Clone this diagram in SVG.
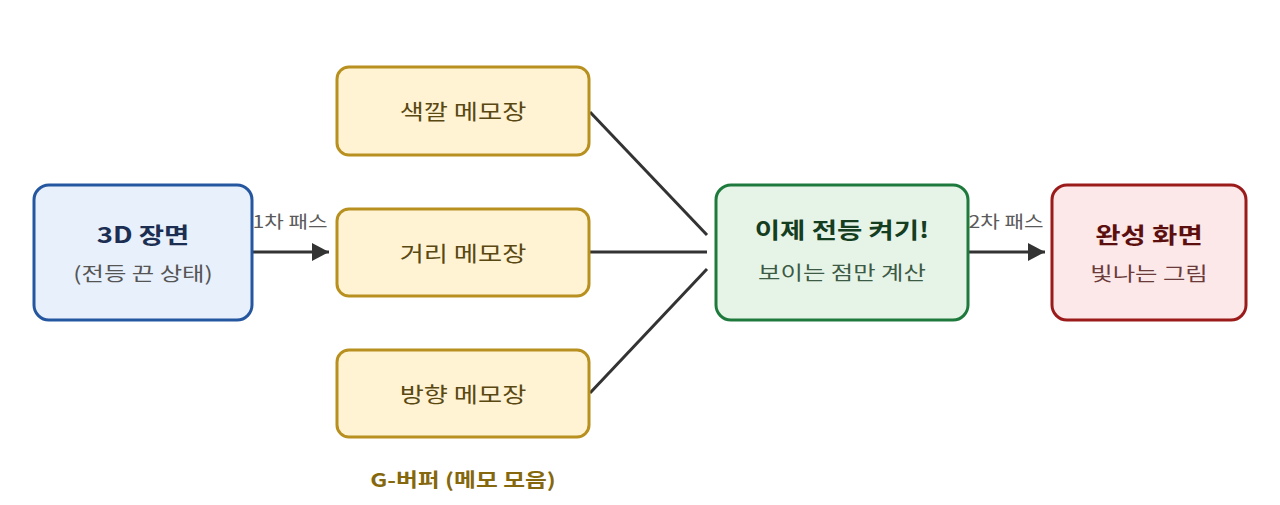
<svg xmlns="http://www.w3.org/2000/svg" width="1280" height="505" viewBox="0 0 1280 505">
<defs>
<style>
text{font-family:"Noto Sans CJK KR","Noto Sans",sans-serif;text-anchor:middle}
.t{font-size:22px;font-weight:bold}
.s{font-size:19.5px}
.m{font-size:21px;fill:#5a4812}
.memo{fill:#fff3d4;stroke:#b8901f;stroke-width:3}
.lbl{font-size:17px;fill:#5a5a5a}
.ln{stroke:#333;stroke-width:3;fill:none}
</style>
<marker id="ah" markerWidth="17" markerHeight="18" refX="17" refY="9" orient="auto" markerUnits="userSpaceOnUse" viewBox="0 0 17 18"><path d="M0,0 L17,9 L0,18 z" fill="#333"/></marker>
</defs>
<rect width="1280" height="505" fill="#fff"/>
<g id="connectors">
<text class="lbl" transform="translate(290 228) scale(1.25 1)">1차 패스</text>
<line class="ln" x1="252" y1="252" x2="329" y2="252" marker-end="url(#ah)"/>
<line class="ln" x1="590" y1="112" x2="707" y2="235"/>
<line class="ln" x1="590" y1="252" x2="707" y2="252"/>
<line class="ln" x1="590" y1="393" x2="707" y2="269"/>
<text class="lbl" transform="translate(1006 228) scale(1.25 1)">2차 패스</text>
<line class="ln" x1="968" y1="252" x2="1045" y2="252" marker-end="url(#ah)"/>
</g>
<g id="scene">
<rect x="34" y="185" width="218" height="135" rx="15" fill="#e8f0fb" stroke="#2556a0" stroke-width="3"/>
<text class="t" fill="#1c2f52" transform="translate(143 243) scale(1.25 1)">3D 장면</text>
<text class="s" fill="#555" transform="translate(143 281) scale(1.25 1)">(전등 끈 상태)</text>
</g>
<g id="color-memo">
<rect class="memo" x="337" y="67" width="252" height="88" rx="12"/>
<text class="m" transform="translate(463 119) scale(1.25 1)">색깔 메모장</text>
</g>
<g id="depth-memo">
<rect class="memo" x="337" y="209" width="252" height="87" rx="12"/>
<text class="m" transform="translate(463 261) scale(1.25 1)">거리 메모장</text>
</g>
<g id="normal-memo">
<rect class="memo" x="337" y="350" width="252" height="87" rx="12"/>
<text class="m" transform="translate(463 402) scale(1.25 1)">방향 메모장</text>
</g>
<g id="gbuffer-label">
<text font-size="19" font-weight="bold" fill="#85680d" transform="translate(463 487) scale(1.25 1)">G-버퍼 (메모 모음)</text>
</g>
<g id="lighting">
<rect x="716" y="185" width="252" height="135" rx="15" fill="#e6f4e8" stroke="#1e7a3c" stroke-width="3"/>
<text class="t" fill="#153d1f" transform="translate(842 238) scale(1.25 1)">이제 전등 켜기!</text>
<text class="s" fill="#3d5a44" transform="translate(842 280) scale(1.25 1)">보이는 점만 계산</text>
</g>
<g id="final">
<rect x="1052" y="185" width="194" height="135" rx="15" fill="#fce8e8" stroke="#9b1b1b" stroke-width="3"/>
<text class="t" fill="#5c0f0f" transform="translate(1149 243) scale(1.25 1)">완성 화면</text>
<text class="s" fill="#6b3b3b" transform="translate(1149 281) scale(1.25 1)">빛나는 그림</text>
</g>
</svg>
